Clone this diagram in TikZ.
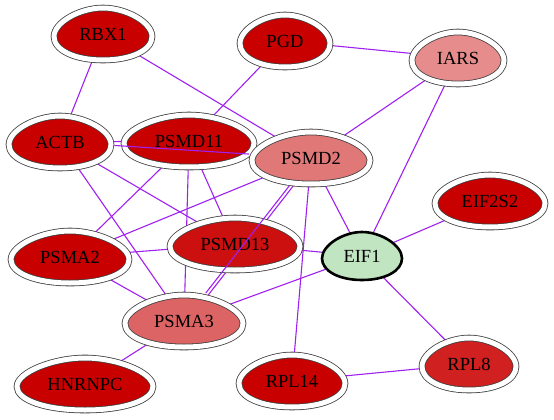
\documentclass[tikz,border=0pt]{standalone}
\usepackage{fontspec}
\setmainfont{Liberation Serif}
\usetikzlibrary{shapes.geometric}
\pgfdeclarelayer{background}
\pgfdeclarelayer{foreground}
\pgfsetlayers{background,main,foreground}
\definecolor{dred}{RGB}{200,0,0}
\definecolor{mred}{RGB}{204,16,16}
\definecolor{rred}{RGB}{208,32,32}
\definecolor{pinkA}{RGB}{224,120,120}
\definecolor{pinkB}{RGB}{230,140,140}
\definecolor{pinkC}{RGB}{220,100,100}
\definecolor{lgreen}{RGB}{193,228,193}
\definecolor{epurple}{RGB}{160,32,240}
\tikzset{
  edge/.style={draw=epurple, line width=1.1pt},
  eggline/.style={draw=black!75, line width=0.8pt, double=white, double distance=5pt},
  eggbold/.style={draw=black, line width=2.6pt},
  lbl/.style={ellipse, inner sep=0pt, font=\fontsize{18.5}{19}\selectfont}
}
% #1 name, #2 cx, #3 cy, #4 a, #5 b, #6 style, #7 fill, #8 text
\newcommand{\eggnode}[8]{%
  \path[#6, fill=#7]
    ({#2-#4},{#3+0.1*#5})
    .. controls ({#2-#4},{#3-0.45*#5}) and ({#2-0.47*#4},{#3-#5}) .. ({#2},{#3-#5})
    .. controls ({#2+0.47*#4},{#3-#5}) and ({#2+#4},{#3-0.45*#5}) .. ({#2+#4},{#3+0.1*#5})
    .. controls ({#2+#4},{#3+0.62*#5}) and ({#2+0.58*#4},{#3+#5}) .. ({#2},{#3+#5})
    .. controls ({#2-0.58*#4},{#3+#5}) and ({#2-#4},{#3+0.62*#5}) .. cycle;
  \node[lbl, minimum width={2*#4+7}, minimum height={2*#5+7}] (#1) at (#2,#3) {#8};
}
\begin{document}
\begin{tikzpicture}[x=1pt,y=-1pt]
\useasboundingbox (0,0) rectangle (554,420);
\eggnode{rbx1}{103}{34}{49}{26}{eggline}{dred}{RBX1}
\eggnode{pgd}{285}{41}{45}{26}{eggline}{dred}{PGD}
\eggnode{iars}{458}{58}{46}{26}{eggline}{pinkB}{IARS}
\eggnode{actb}{60}{142}{51}{26}{eggline}{dred}{ACTB}
\eggnode{psmd11}{189}{141}{65}{26}{eggline}{dred}{PSMD11}
\eggnode{psmd2}{311}{158}{59}{26}{eggline}{pinkA}{PSMD2}
\eggnode{eif2s2}{490}{201}{55}{26}{eggline}{dred}{EIF2S2}
\eggnode{psmd13}{235}{244}{65}{26}{eggline}{mred}{PSMD13}
\eggnode{psma2}{70}{257}{59}{26}{eggline}{dred}{PSMA2}
\eggnode{eif1}{362}{256}{40}{24}{eggbold}{lgreen}{EIF1}
\eggnode{psma3}{184}{321}{59}{26}{eggline}{pinkC}{PSMA3}
\eggnode{rpl8}{469}{364}{47}{26}{eggline}{rred}{RPL8}
\eggnode{rpl14}{292}{381}{53}{26}{eggline}{dred}{RPL14}
\eggnode{hnrnpc}{85}{384}{68}{26}{eggline}{dred}{HNRNPC}
\begin{pgfonlayer}{background}
\draw[edge] (rbx1.center) -- (actb.center);
\draw[edge] (rbx1.center) -- (psmd2.center);
\draw[edge] (pgd.center) -- (psmd11.center);
\draw[edge] (pgd.center) -- (iars.center);
\draw[edge] (iars.center) -- (psmd2.center);
\draw[edge] (iars.center) -- (eif1.center);
\draw[edge] (actb.center) -- (psmd11.center);
\draw[edge] (actb.center) -- (psma3.center);
\draw[edge] (actb.center) -- (psmd13.center);
\draw[edge] (psmd11.center) -- (psma2.center);
\draw[edge] (psmd11.center) -- (psma3.center);
\draw[edge] (psmd11.center) -- (psmd13.center);
\draw[edge] (psmd2.center) -- (psma2.center);
\draw[edge] ([xshift=4pt]psmd2.center) -- ([xshift=4pt]psma3.center);
\draw[edge] (psmd2.center) -- (rpl14.center);
\draw[edge] (psmd2.center) -- (eif1.center);
\draw[edge] (psma2.center) -- (psmd13.center);
\draw[edge] (psma2.center) -- (psma3.center);
\draw[edge] (psmd13.center) -- (eif1.center);
\draw[edge] (psma3.center) -- (eif1.center);
\draw[edge] (psma3.center) -- (hnrnpc.center);
\draw[edge] (eif1.center) -- (eif2s2.center);
\draw[edge] (eif1.center) -- (rpl8.center);
\draw[edge] (rpl14.center) -- (rpl8.center);
\end{pgfonlayer}
\begin{pgfonlayer}{foreground}
\draw[edge] (actb) -- (psmd2);
\draw[edge] (psmd2) -- (psma3);
\end{pgfonlayer}
\end{tikzpicture}
\end{document}
